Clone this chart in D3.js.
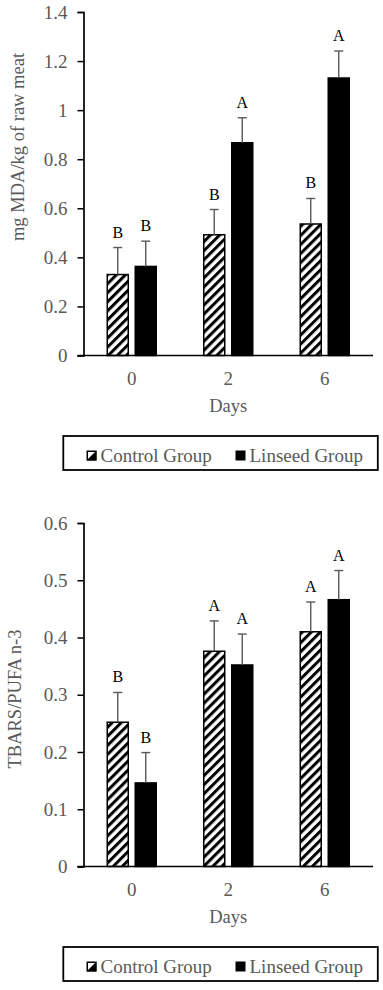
<!DOCTYPE html>
<html>
<head>
<meta charset="utf-8">
<script src="https://cdn.jsdelivr.net/npm/d3@7"></script>
<style>
  body { margin: 0; background: #fff; }
  svg { display: block; }
  svg text { font-family: "Liberation Serif", "Times New Roman", "DejaVu Serif", serif !important; }
</style>
</head>
<body>
<svg id="chart" width="383" height="990"></svg>
<script>
const days = ["0", "2", "6"];
const groups = ["Control Group", "Linseed Group"];

// panel 1: mg MDA/kg of raw meat
const mdaControl = [0.330, 0.492, 0.536];
const mdaControlErr = [0.110, 0.103, 0.104];
const mdaLinseed = [0.363, 0.867, 1.131];
const mdaLinseedErr = [0.103, 0.102, 0.110];
const mdaControlLetters = ["B", "B", "B"];
const mdaLinseedLetters = ["B", "A", "A"];
const mdaTicks = [0, 0.2, 0.4, 0.6, 0.8, 1, 1.2, 1.4];

// panel 2: TBARS/PUFA n-3
const ratioControl = [0.252, 0.376, 0.410];
const ratioControlErr = [0.052, 0.053, 0.052];
const ratioLinseed = [0.146, 0.352, 0.466];
const ratioLinseedErr = [0.053, 0.054, 0.051];
const ratioControlLetters = ["B", "A", "A"];
const ratioLinseedLetters = ["B", "A", "A"];
const ratioTicks = [0, 0.1, 0.2, 0.3, 0.4, 0.5, 0.6];

const svg = d3.select("#chart");
const gray = "#595959";

// hatch for the control group
const defs = svg.append("defs");
defs.append("pattern")
    .attr("id", "hatch")
    .attr("patternUnits", "userSpaceOnUse")
    .attr("width", 6.4)
    .attr("height", 6.4)
    .attr("patternTransform", "rotate(45)")
    .call(p => {
        p.append("rect").attr("width", 6.4).attr("height", 6.4).attr("fill", "#fff");
        p.append("rect").attr("width", 3).attr("height", 6.4).attr("fill", "#000");
    });

const left = 83.5, right = 373;

const drawPanel = (top, maxY, ticks, series, yTitle, titlePos) => {
    const bottom = top + 343.5;
    const g = svg.append("g");

    const y = d3.scaleLinear().domain([0, maxY]).range([bottom, top]);
    const x0 = d3.scaleBand().domain(days).range([left, right]);
    const x1 = d3.scaleBand().domain(groups)
        .range([x0.bandwidth() / 2 - 24.5, x0.bandwidth() / 2 + 24.5])
        .paddingInner(0.25);

    // y axis
    const yAxis = g.append("g")
        .attr("transform", `translate(${left},0)`)
        .call(d3.axisLeft(y).tickValues(ticks).tickSize(6).tickPadding(10)
            .tickFormat(d => String(+d.toFixed(1))))
        .attr("font-family", null)
        .attr("font-size", null);
    yAxis.select(".domain").attr("stroke", "#000").attr("stroke-width", 1.7);
    yAxis.selectAll(".tick line").attr("stroke", "#000").attr("stroke-width", 1.5);
    yAxis.selectAll(".tick text")
        .attr("fill", gray)
        .style("font-size", "19px");

    // bars
    series.forEach(s => {
        const xg = x1(s.name);
        g.append("g").selectAll("rect")
            .data(s.values)
            .join("rect")
            .attr("x", (d, i) => x0(days[i]) + xg)
            .attr("y", d => y(d))
            .attr("width", x1.bandwidth())
            .attr("height", d => bottom - y(d))
            .attr("fill", s.fill)
            .attr("stroke", "#000")
            .attr("stroke-width", 1.5);

        // plus-only error bars
        const cx = i => x0(days[i]) + xg + x1.bandwidth() / 2;
        s.values.forEach((v, i) => {
            const yTop = y(v + s.err[i]);
            g.append("line")
                .attr("x1", cx(i)).attr("x2", cx(i))
                .attr("y1", y(v)).attr("y2", yTop)
                .attr("stroke", gray).attr("stroke-width", 1.4);
            g.append("line")
                .attr("x1", cx(i) - 4.5).attr("x2", cx(i) + 4.5)
                .attr("y1", yTop).attr("y2", yTop)
                .attr("stroke", gray).attr("stroke-width", 1.4);
            g.append("text")
                .attr("x", cx(i))
                .attr("y", yTop - 10)
                .attr("text-anchor", "middle")
                .attr("fill", "#000")
                .style("font-size", "16px")
                .text(s.letters[i]);
        });
    });

    // x axis
    g.append("line")
        .attr("x1", left - 6).attr("x2", right)
        .attr("y1", bottom).attr("y2", bottom)
        .attr("stroke", "#000").attr("stroke-width", 1.7);
    const xAxis = g.append("g")
        .attr("transform", `translate(0,${bottom})`)
        .call(d3.axisBottom(x0).tickSize(0).tickPadding(16))
        .attr("font-family", null)
        .attr("font-size", null);
    xAxis.select(".domain").remove();
    xAxis.selectAll(".tick text")
        .attr("fill", gray)
        .style("font-size", "19px");

    g.append("text")
        .attr("x", (left + right) / 2)
        .attr("y", bottom + 56)
        .attr("text-anchor", "middle")
        .attr("fill", gray)
        .style("font-size", "18.5px")
        .text("Days");

    g.append("text")
        .attr("transform", `translate(${titlePos[0]},${titlePos[1]}) rotate(-90)`)
        .attr("text-anchor", "middle")
        .attr("fill", gray)
        .style("font-size", "18.5px")
        .text(yTitle);

    // legend
    const ly = bottom + 80.5;
    g.append("rect")
        .attr("x", 63.3).attr("y", ly)
        .attr("width", 314.5).attr("height", 34)
        .attr("fill", "#fff").attr("stroke", "#000").attr("stroke-width", 1.8);
    const itemX = [86.5, 235.5];
    series.forEach((s, i) => {
        const sx = itemX[i], sy = ly + 14.5;
        if (s.fill === "#000") {
            g.append("rect").attr("x", sx).attr("y", sy).attr("width", 10).attr("height", 10)
                .attr("fill", "#000");
        } else {
            g.append("rect").attr("x", sx + 0.75).attr("y", sy + 0.75).attr("width", 8.5).attr("height", 8.5)
                .attr("fill", "#fff").attr("stroke", "#000").attr("stroke-width", 1.5);
            g.append("path")
                .attr("d", `M${sx + 10},${sy} L${sx + 10},${sy + 10} L${sx},${sy + 10} Z`)
                .attr("fill", "#000");
        }
        g.append("text")
            .attr("x", sx + 14)
            .attr("y", sy + 5)
            .attr("dy", "0.35em")
            .attr("fill", gray)
            .style("font-size", "19px")
            .text(s.name);
    });
};

drawPanel(12, 1.4, mdaTicks, [
    { name: groups[0], values: mdaControl, err: mdaControlErr, letters: mdaControlLetters, fill: "url(#hatch)" },
    { name: groups[1], values: mdaLinseed, err: mdaLinseedErr, letters: mdaLinseedLetters, fill: "#000" }
], "mg MDA/kg of raw meat", [24, 147]);

drawPanel(523, 0.6, ratioTicks, [
    { name: groups[0], values: ratioControl, err: ratioControlErr, letters: ratioControlLetters, fill: "url(#hatch)" },
    { name: groups[1], values: ratioLinseed, err: ratioLinseedErr, letters: ratioLinseedLetters, fill: "#000" }
], "TBARS/PUFA n-3", [21, 699]);
</script>
</body>
</html>
